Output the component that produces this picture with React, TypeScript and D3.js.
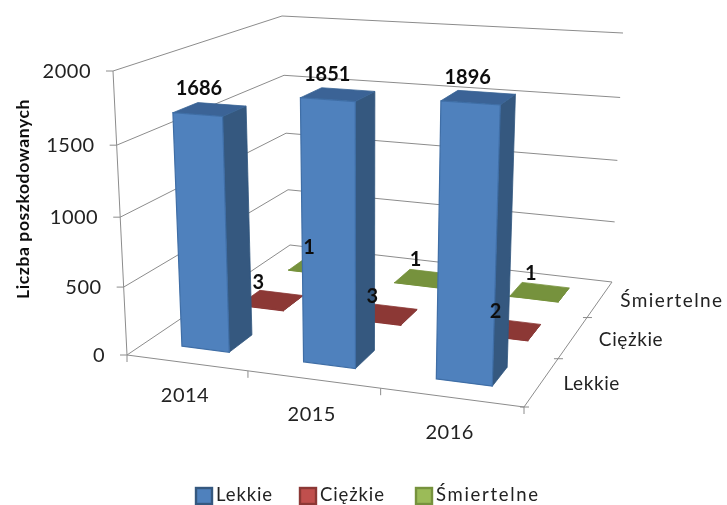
import React from "react";
import * as d3 from "d3";

const categories = ["2014", "2015", "2016"];
const seriesNames = ["Lekkie", "Ciężkie", "Śmiertelne"];
const lekkie = [1686, 1851, 1896];
const ciezkie = [3, 3, 2];
const smiertelne = [1, 1, 1];
const valueTicks = [0, 500, 1000, 1500, 2000];
const seriesValues = [lekkie, ciezkie, smiertelne];

type Pt = [number, number];
type V3 = [number, number, number];
// scene frame (screen px)
const floorQuad: Pt[] = [[127, 355], [524, 407], [612, 282], [290, 245]];
const topTargets: { uvw: Pt; xy: Pt }[] = [
  { uvw: [0, 0], xy: [113, 71] },
  { uvw: [1, 0], xy: [535, 100] },
  { uvw: [1, 1], xy: [623, 33] },
  { uvw: [0, 1], xy: [282, 16] },
];

function floorMatrix(q: Pt[]) {
  const [[x0, y0], [x1, y1], [x2, y2], [x3, y3]] = q;
  const dx1 = x1 - x2, dx2 = x3 - x2, sx = x0 - x1 + x2 - x3;
  const dy1 = y1 - y2, dy2 = y3 - y2, sy = y0 - y1 + y2 - y3;
  const den = dx1 * dy2 - dx2 * dy1;
  const g = (sx * dy2 - dx2 * sy) / den;
  const h = (dx1 * sy - sx * dy1) / den;
  const cu: V3 = [x1 - x0 + g * x1, y1 - y0 + g * y1, g];
  const cv: V3 = [x3 - x0 + h * x3, y3 - y0 + h * y3, h];
  const c0: V3 = [x0, y0, 1];
  return { cu, cv, c0 };
}
const { cu, cv, c0 } = floorMatrix(floorQuad);

// vertical column of the projective camera, fitted to the four upper corners
function fitVertical(): V3 {
  let best: V3 = [0, 0, 0];
  let bestErr = Infinity;
  for (const c of d3.range(-0.6, 0.6, 0.002)) {
    const rows = topTargets.map(({ uvw: [u, v], xy: [X, Y] }) => {
      const px = cu[0] * u + cv[0] * v + c0[0];
      const py = cu[1] * u + cv[1] * v + c0[1];
      const pw = cu[2] * u + cv[2] * v + c0[2];
      return { ra: X * (pw + c) - px, rb: Y * (pw + c) - py, w: pw + c, X, Y, px, py };
    });
    if (rows.some((r) => r.w <= 0.05)) continue;
    const a = d3.mean(rows, (r) => r.ra)!;
    const b = d3.mean(rows, (r) => r.rb)!;
    const err = d3.sum(rows, (r) => ((r.px + a) / r.w - r.X) ** 2 + ((r.py + b) / r.w - r.Y) ** 2);
    if (err < bestErr) {
      bestErr = err;
      best = [a, b, c];
    }
  }
  return best;
}
const cz = fitVertical();

const uBand = d3.scaleBand<string>().domain(categories).range([0, 1]).paddingInner(0.6).paddingOuter(0.3);
const vBand = d3.scaleBand<string>().domain(seriesNames).range([0, 1]).paddingInner(0.6).paddingOuter(0.3);
const zScale = d3.scaleLinear().domain([0, 2000]).range([0, 1]);
// foreshortening along the category axis
const uWarp = d3.scaleLinear().domain([0, 1 / 3, 2 / 3, 1]).range([0, 0.315, 0.65, 1]);

function rawProject(u: number, v: number, t: number): Pt {
  const x = cu[0] * u + cv[0] * v + cz[0] * t + c0[0];
  const y = cu[1] * u + cv[1] * v + cz[1] * t + c0[1];
  const w = cu[2] * u + cv[2] * v + cz[2] * t + c0[2];
  return [x / w, y / w];
}
const residuals = topTargets.map(({ uvw: [u, v], xy }) => {
  const p = rawProject(u, v, 1);
  return [xy[0] - p[0], xy[1] - p[1]] as Pt;
});
function project(uIn: number, v: number, value: number): Pt {
  const u = uWarp(uIn);
  const t = zScale(value);
  const p = rawProject(u, v, t);
  const k = [(1 - u) * (1 - v), u * (1 - v), u * v, (1 - u) * v];
  const dx = d3.sum(residuals, (r, i) => r[0] * k[i]);
  const dy = d3.sum(residuals, (r, i) => r[1] * k[i]);
  return [p[0] + dx * t, p[1] + dy * t];
}
const lineGen = d3.line<Pt>();
const path = (pts: Pt[]) => lineGen(pts)! + "Z";

const palette = [
  { front: "#4F81BD", side: "#34587F", top: "#3A6496", edge: "#3F6EA6" },
  { front: "#8C3836", side: "#7A2F2D", top: "#8C3836", edge: "#8C3836" },
  { front: "#76923C", side: "#66802F", top: "#76923C", edge: "#76923C" },
];
const swatch = [
  { fill: "#4F81BD", stroke: "#34587F" },
  { fill: "#C0504D", stroke: "#8C3836" },
  { fill: "#9BBB59", stroke: "#76923C" },
];
const labelOffset: Pt[] = [[-11, -21], [-13, -18], [-9, -19]];
const catLabelOffset: Pt[] = [[-2, 39], [-2, 42], [-2, 41]];
const serLabelOffset: Pt[] = [[50, 8], [58, 9], [72, 8]];
const legendX = [195, 299, 415];
const fontFamily = "Lato, 'Noto Sans', sans-serif";
const grid = "#8C8C8C";

export default function App() {
  const tickLen = 7;
  const order = [2, 1, 0];
  return (
    <svg width={727} height={505} viewBox="0 0 727 505"
      style={{ position: "absolute", left: 0, top: 0, display: "block", background: "#fff" }}
      fontFamily={fontFamily}>
      <defs>
        <filter id="soft" x="-5%" y="-5%" width="110%" height="110%">
          <feGaussianBlur stdDeviation="0.45" />
        </filter>
      </defs>
      <g filter="url(#soft)">
        {valueTicks.map((t) => {
          const pts: Pt[] = [project(0, 0, t), project(0, 1, t), project(1, 1, t)];
          const a = project(0, 0, t);
          return (
            <g key={t}>
              <path d={lineGen(pts)!} fill="none" stroke={grid} strokeWidth={1} />
              <line x1={a[0] - tickLen} y1={a[1]} x2={a[0]} y2={a[1]} stroke={grid} />
              <text x={a[0] - 22} y={a[1] + 7} textAnchor="end" fontSize={20} letterSpacing={0.5} fill="#222">{t}</text>
            </g>
          );
        })}
        <path d={lineGen([project(0, 0, 2000), project(0, 0, 0)])!} fill="none" stroke={grid} />
        <path d={lineGen([project(0, 0, 0), project(1, 0, 0), project(1, 1, 0)])!} fill="none" stroke={grid} />
        {d3.range(0, 4).map((i) => {
          const a = project(i / 3, 0, 0);
          return <line key={i} x1={a[0]} y1={a[1]} x2={a[0]} y2={a[1] + 7} stroke={grid} />;
        })}
        {d3.range(0, 3).map((i) => {
          const a = project(1, i / 3, 0);
          return <line key={i} x1={a[0] - 4} y1={a[1]} x2={a[0] + 5} y2={a[1]} stroke={grid} />;
        })}
        {order.map((s) =>
          categories.map((c, i) => {
            const u0 = uBand(c)!, u1 = u0 + uBand.bandwidth();
            const v0 = vBand(seriesNames[s])!, v1 = v0 + vBand.bandwidth();
            const val = seriesValues[s][i];
            const col = palette[s];
            const front = [project(u0, v0, 0), project(u1, v0, 0), project(u1, v0, val), project(u0, v0, val)];
            const side = [project(u1, v0, 0), project(u1, v1, 0), project(u1, v1, val), project(u1, v0, val)];
            const top = [project(u0, v0, val), project(u1, v0, val), project(u1, v1, val), project(u0, v1, val)];
            return (
              <g key={s + c}>
                <path d={path(side)} fill={col.side} stroke={col.side} strokeWidth={0.8} />
                <path d={path(top)} fill={col.top} stroke={col.top} strokeWidth={0.8} />
                <path d={path(front)} fill={col.front} stroke={col.edge} strokeWidth={1.2} />
              </g>
            );
          })
        )}
        {seriesValues.map((vals, s) =>
          categories.map((c, i) => {
            const uc = uBand(c)! + uBand.bandwidth() / 2;
            const vc = vBand(seriesNames[s])! + vBand.bandwidth() / 2;
            const p = project(uc, vc, vals[i]);
            return (
              <text key={s + c} x={p[0] + labelOffset[s][0]} y={p[1] + labelOffset[s][1] + 7}
                textAnchor="middle" fontSize={20} fontWeight={700} fill="#111">{vals[i]}</text>
            );
          })
        )}
        {categories.map((c, i) => {
          const p = project((i + 0.5) / 3, 0, 0);
          return (
            <text key={c} x={p[0] + catLabelOffset[i][0]} y={p[1] + catLabelOffset[i][1]}
              textAnchor="middle" fontSize={20} letterSpacing={0.5} fill="#222">{c}</text>
          );
        })}
        {seriesNames.map((n, i) => {
          const p = project(1, (i + 0.5) / 3, 0);
          return (
            <text key={n} x={p[0] + serLabelOffset[i][0]} y={p[1] + serLabelOffset[i][1]}
              textAnchor="middle" fontSize={19} letterSpacing={i === 2 ? 1.4 : 0.6} fill="#222">{n}</text>
          );
        })}
        <text transform="translate(29,199) rotate(-90)" textAnchor="middle" fontSize={17.5} fontWeight={700}
          fill="#111" letterSpacing={0.6}>Liczba  poszkodowanych</text>
        {seriesNames.map((n, i) => (
          <g key={n}>
            <rect x={legendX[i] + 1} y={488} width={16} height={16} fill={swatch[i].fill}
              stroke={swatch[i].stroke} strokeWidth={2.4} />
            <text x={legendX[i] + 21} y={501} fontSize={18.5} fill="#222" letterSpacing={i === 2 ? 1.7 : 0.9}>{n}</text>
          </g>
        ))}
      </g>
    </svg>
  );
}
